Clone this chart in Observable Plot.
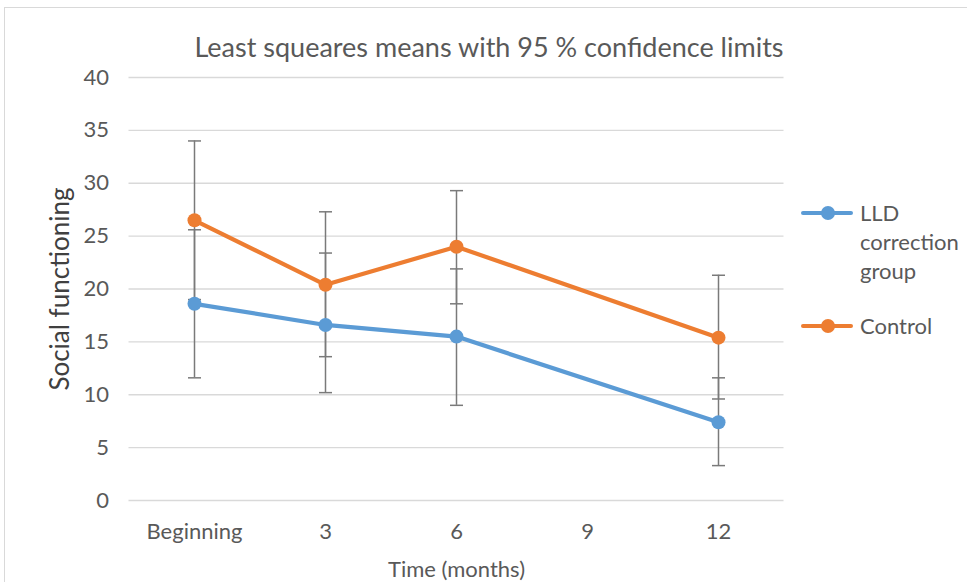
<!DOCTYPE html>
<html>
<head>
<meta charset="utf-8">
<script src="https://cdn.jsdelivr.net/npm/d3@7"></script>
<script src="https://cdn.jsdelivr.net/npm/@observablehq/plot@0.6"></script>
<style>
  html, body { margin: 0; padding: 0; background: #fff; }
  #wrap { position: relative; width: 967px; height: 582px; overflow: hidden; font-family: Lato, "Noto Sans", sans-serif; color: #595959; }
  #frame { position: absolute; left: 4px; top: 7px; width: 970px; height: 600px; border: 1px solid #d9d9d9; box-sizing: border-box; }
  #chart { position: absolute; left: 0; top: 0; }
  #title { position: absolute; left: 0; width: 978px; top: 30px; text-align: center; font-size: 27px; white-space: nowrap; }
  .leg { position: absolute; font-size: 22px; line-height: 29px; }
  .sw { position: absolute; }
</style>
</head>
<body>
<div id="wrap">
  <div id="frame"></div>
  <div id="chart"></div>
  <div id="title">Least squeares means with 95 % confidence limits</div>
  <div id="legend"></div>
</div>
<script>
const categories = ["Beginning", "3", "6", "9", "12"];
const timePoints = ["Beginning", "3", "6", "12"];
const lldMean = [18.6, 16.6, 15.5, 7.4];
const lldLow  = [11.6, 10.2, 9.0, 3.3];
const lldHigh = [25.6, 23.4, 21.9, 11.6];
const ctrlMean = [26.5, 20.4, 24.0, 15.4];
const ctrlLow  = [19.0, 13.6, 18.6, 9.6];
const ctrlHigh = [34.0, 27.3, 29.3, 21.3];
const seriesNames = ["LLD correction group", "Control"];
const seriesColors = ["#5B9BD5", "#ED7D31"];
const yTicks = [0, 5, 10, 15, 20, 25, 30, 35, 40];

const rows = [];
timePoints.forEach((t, i) => {
  rows.push({time: t, series: seriesNames[0], mean: lldMean[i], low: lldLow[i], high: lldHigh[i]});
  rows.push({time: t, series: seriesNames[1], mean: ctrlMean[i], low: ctrlLow[i], high: ctrlHigh[i]});
});

const font = "Lato, 'Noto Sans', sans-serif";
const errColor = "#7a7a7a";
// horizontal cap symbol for error bars
const capSymbol = {
  draw(context, size) {
    const r = Math.sqrt(size / Math.PI);
    context.moveTo(-r, 0);
    context.lineTo(r, 0);
  }
};

const plot = Plot.plot({
  width: 967,
  height: 582,
  marginLeft: 128.5,
  marginRight: 183.5,
  marginTop: 77,
  marginBottom: 82,
  style: {fontFamily: font, fontSize: "22px", color: "#595959", background: "transparent", overflow: "visible"},
  x: {type: "point", domain: categories, padding: 0.5},
  y: {domain: [0, 40]},
  color: {domain: seriesNames, range: seriesColors},
  marks: [
    Plot.ruleY(yTicks, {stroke: "#d9d9d9", strokeWidth: 1.3}),
    Plot.axisY({ticks: yTicks, tickSize: 0, tickPadding: 20, label: null, fill: "#595959", fontSize: 22}),
    Plot.axisY({ticks: [], tickSize: 0, label: "Social functioning", labelArrow: "none", labelAnchor: "center", labelOffset: 78, fill: "#404040", fontSize: 26}),
    Plot.axisX({tickSize: 0, tickPadding: 23, label: "Time (months)", labelArrow: "none", labelAnchor: "center", labelOffset: 76, fill: "#595959", fontSize: 22}),
    Plot.ruleX(rows, {x: "time", y1: "low", y2: "high", stroke: errColor, strokeWidth: 1.5}),
    Plot.dot(rows, {x: "time", y: "low", symbol: capSymbol, r: 6.5, fill: "none", stroke: errColor, strokeWidth: 1.5}),
    Plot.dot(rows, {x: "time", y: "high", symbol: capSymbol, r: 6.5, fill: "none", stroke: errColor, strokeWidth: 1.5}),
    Plot.line(rows, {x: "time", y: "mean", z: "series", stroke: "series", strokeWidth: 4.2, strokeLinecap: "round", strokeLinejoin: "round"}),
    Plot.dot(rows, {x: "time", y: "mean", fill: "series", r: 7, stroke: "none"})
  ]
});
document.getElementById("chart").appendChild(plot);

// legend
const legend = document.getElementById("legend");
const legendItems = [
  {name: seriesNames[0], lines: ["LLD", "correction", "group"], color: seriesColors[0], y: 213},
  {name: seriesNames[1], lines: ["Control"], color: seriesColors[1], y: 326}
];
legendItems.forEach(it => {
  const sw = document.createElementNS("http://www.w3.org/2000/svg", "svg");
  sw.setAttribute("class", "sw");
  sw.setAttribute("width", 52); sw.setAttribute("height", 16);
  sw.style.left = "801px"; sw.style.top = (it.y - 8) + "px";
  sw.innerHTML = `<line x1="2" x2="50" y1="8" y2="8" stroke="${it.color}" stroke-width="4" stroke-linecap="round"/><circle cx="27" cy="8" r="7" fill="${it.color}"/>`;
  legend.appendChild(sw);
  const t = document.createElement("div");
  t.className = "leg";
  t.style.left = "860px"; t.style.top = (it.y - 15) + "px";
  t.innerHTML = it.lines.join("<br>");
  legend.appendChild(t);
});
</script>
</body>
</html>
